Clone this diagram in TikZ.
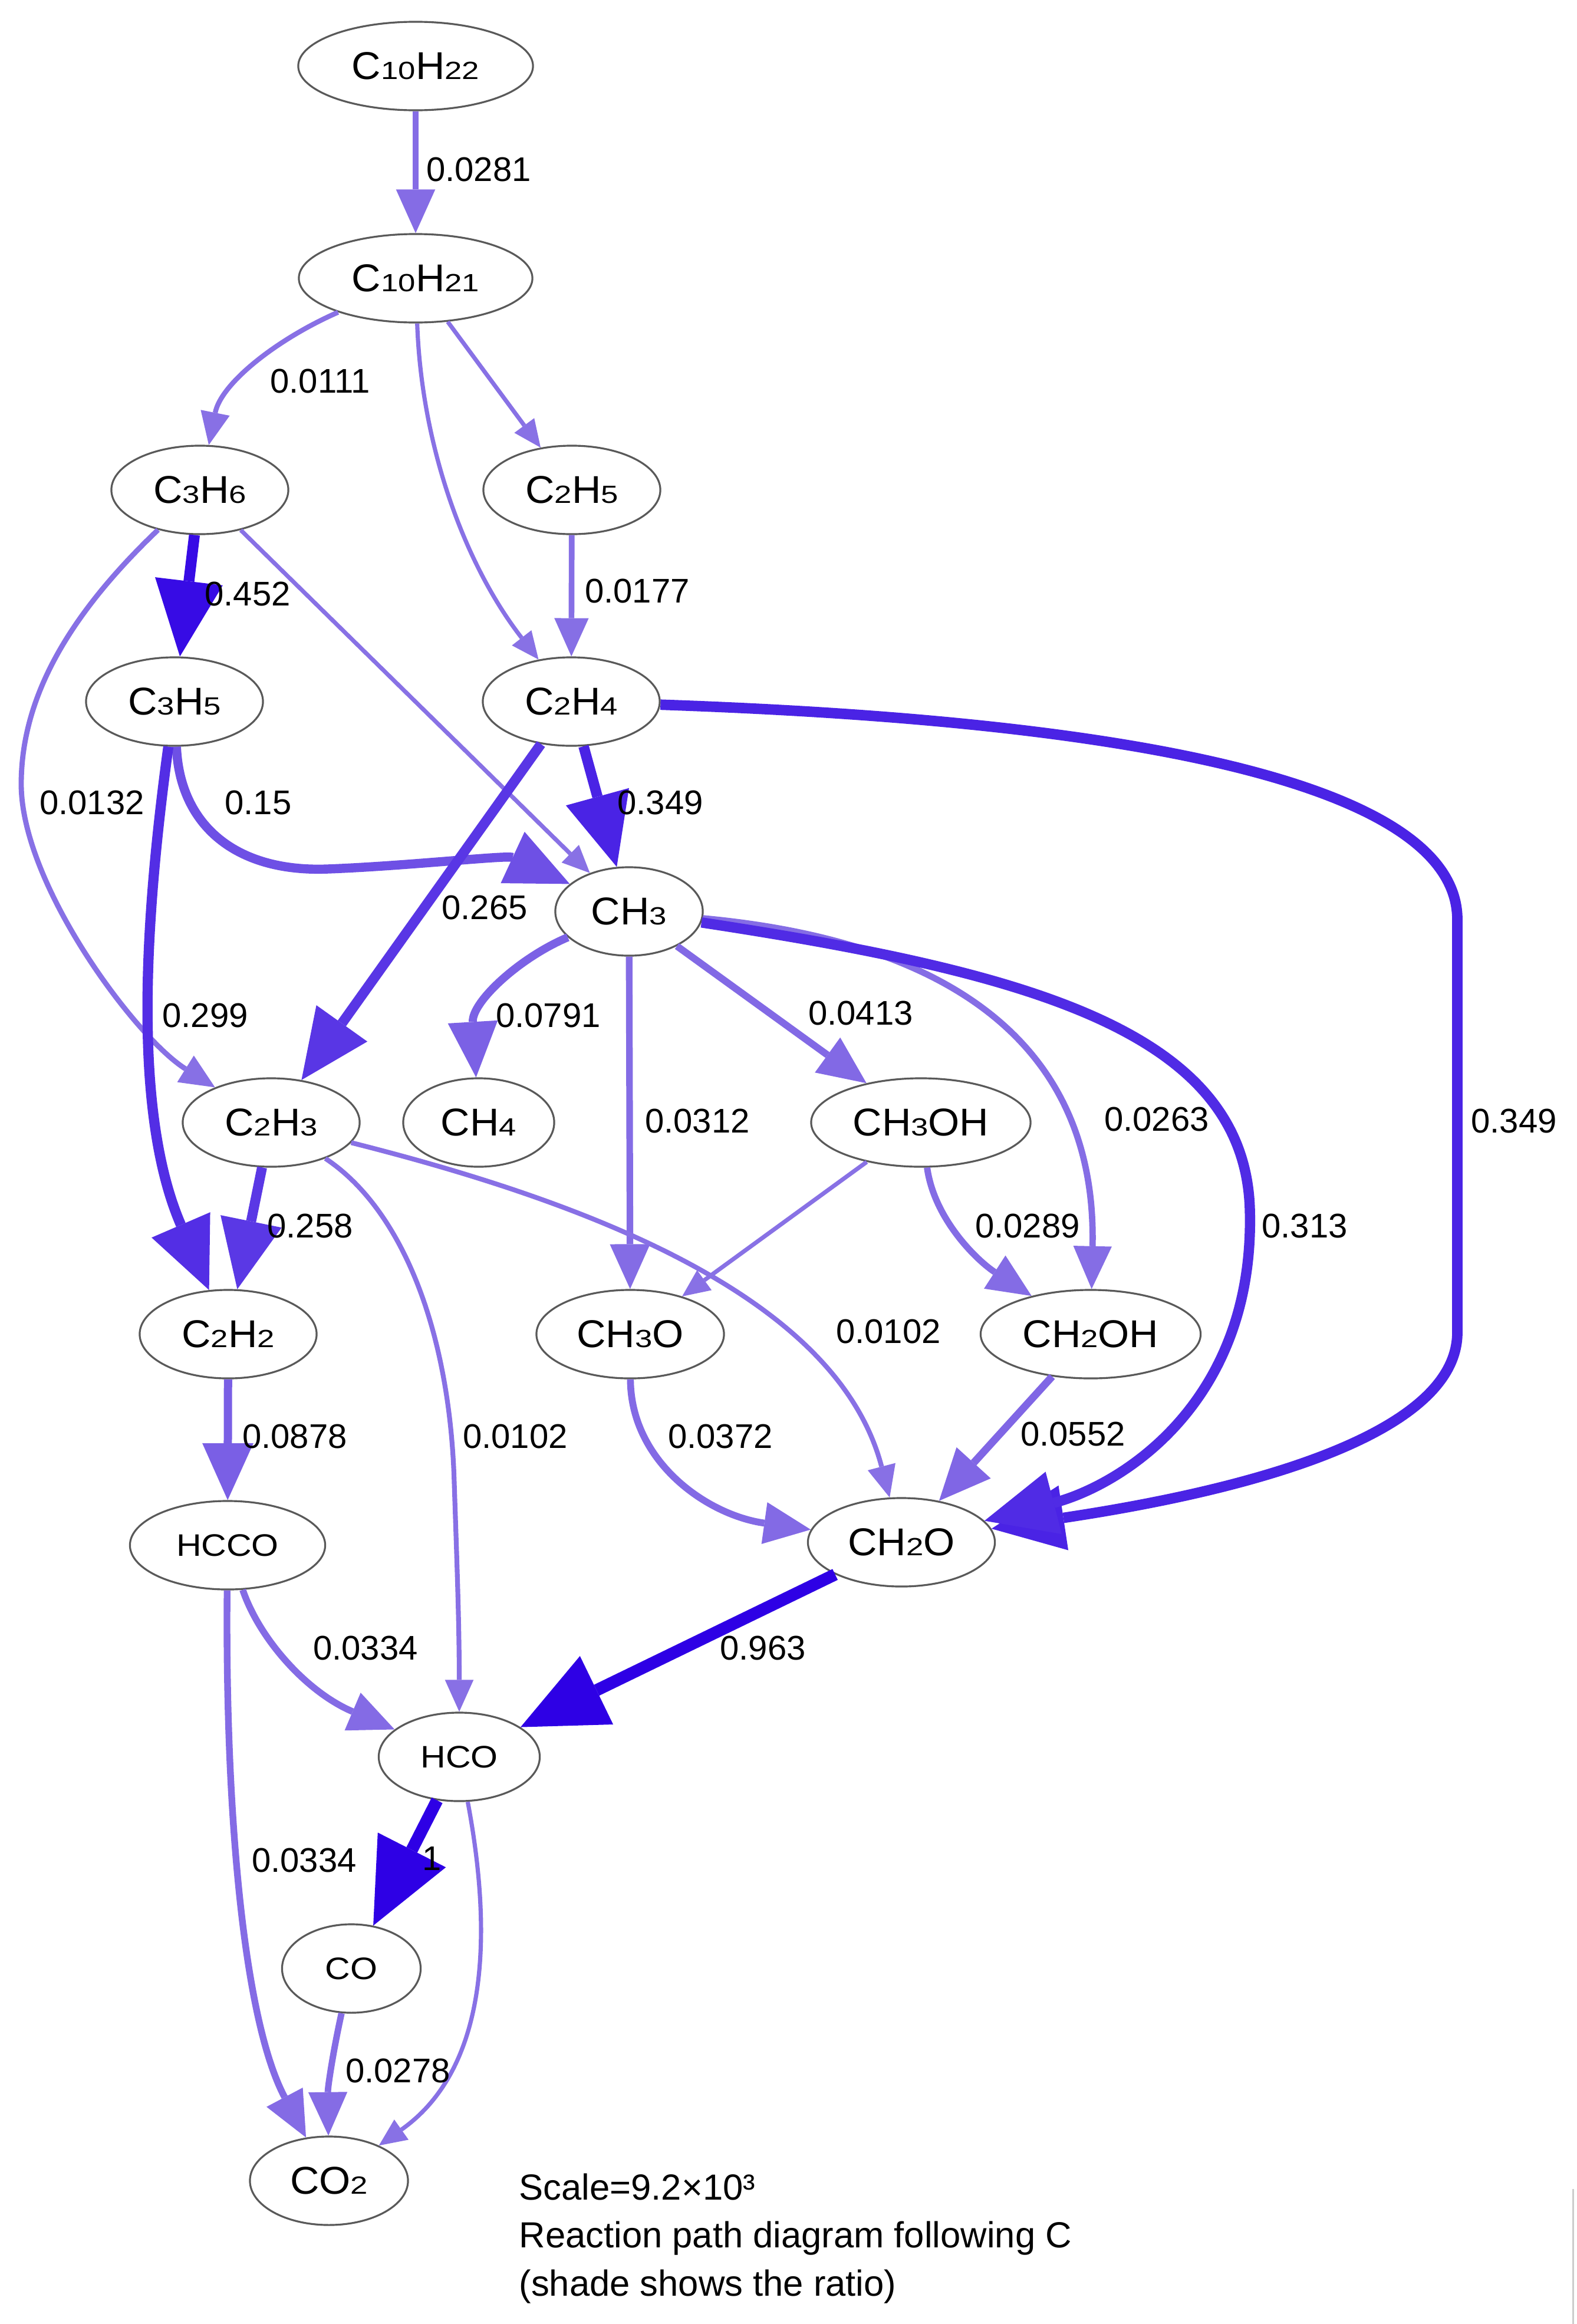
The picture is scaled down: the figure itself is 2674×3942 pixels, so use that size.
\documentclass[tikz,border=0pt]{standalone}
\usepackage{fontspec}
\setmainfont{Liberation Sans}
\newfontfamily\speciesfont{Liberation Sans}[FakeStretch=1.04]
\newfontfamily\smallspeciesfont{Liberation Sans}[FakeStretch=1.12]
\newfontfamily\chemsubfont{Liberation Sans}[FakeStretch=1.25]
\usetikzlibrary{arrows.meta,shapes.geometric}

\newcommand{\sbs}[1]{{\chemsubfont\fontsize{12}{12}\selectfont #1}}

\tikzset{
    species/.style={ellipse, draw=black!65, line width=0.9pt, fill=white, inner sep=0pt, minimum width=3cm, minimum height=1.5cm, font=\speciesfont\fontsize{18.7}{20}\selectfont},
    smallspecies/.style={species, font=\smallspeciesfont\fontsize{15}{16}\selectfont},
    rate/.style={inner sep=0pt, font=\fontsize{16.5}{18}\selectfont},
    flux/.code={%
        \pgfmathsetmacro\fluxlow{0.9*(1-min(1,0.5+#1))}%
        \pgfmathsetmacro\fluxred{\fluxlow+(0.9-\fluxlow)*0.2}%
        \pgfmathsetmacro\fluxunit{2+4*log10(#1/0.005)/2.30103}%
        \pgfmathsetmacro\fluxlw{0.2845*(3.6*\fluxunit-1)}%
        \pgfmathsetmacro\fluxlen{0.2845*(26*\fluxunit-12)}%
        \pgfmathsetmacro\fluxwid{0.9*\fluxlen}%
        \definecolor{fluxcol}{rgb}{\fluxred,\fluxlow,0.9}%
        \edef\fluxkeys{\noexpand\pgfkeysalso{draw=fluxcol, line width=\fluxlw pt, -{Triangle[length=\fluxlen pt, width=\fluxwid pt, line width=0pt]}}}%
        \fluxkeys
    }
}

\begin{document}
\begin{tikzpicture}[x=0.01cm, y=-0.01cm]
            \path[use as bounding box, fill=white] (0,0) rectangle (2674,3942);
            \node[species, minimum width=3.98cm] (c10h22) at (705,112) {C\sbs{10}H\sbs{22}};
            \node[species, minimum width=3.96cm] (c10h21) at (705,472) {C\sbs{10}H\sbs{21}};
            \node[species] (c3h6) at (339,831) {C\sbs{3}H\sbs{6}};
            \node[species] (c2h5) at (970,831) {C\sbs{2}H\sbs{5}};
            \node[species] (c3h5) at (296,1190) {C\sbs{3}H\sbs{5}};
            \node[species] (c2h4) at (969,1190) {C\sbs{2}H\sbs{4}};
            \node[species, minimum width=2.5cm] (ch3) at (1067,1546) {CH\sbs{3}};
            \node[species] (c2h3) at (460,1904) {C\sbs{2}H\sbs{3}};
            \node[species, minimum width=2.56cm] (ch4) at (812,1904) {CH\sbs{4}};
            \node[species, minimum width=3.72cm] (ch3oh) at (1562,1904) {CH\sbs{3}OH};
            \node[species] (c2h2) at (387,2263) {C\sbs{2}H\sbs{2}};
            \node[species, minimum width=3.18cm] (ch3o) at (1069,2263) {CH\sbs{3}O};
            \node[species, minimum width=3.73cm] (ch2oh) at (1850,2263) {CH\sbs{2}OH};
            \node[smallspecies, minimum width=3.31cm] (hcco) at (386,2621) {HCCO};
            \node[species, minimum width=3.17cm] (ch2o) at (1529,2616) {CH\sbs{2}O};
            \node[smallspecies, minimum width=2.73cm] (hco) at (779,2980) {HCO};
            \node[smallspecies, minimum width=2.35cm] (co) at (596,3339) {CO};
            \node[species, minimum width=2.68cm] (co2) at (558,3699) {CO\sbs{2}};
            \draw[flux=0.0281] (c10h22) -- (c10h21);
            \draw[flux=0.0111] (c10h21) .. controls (470,575) and (375,650) .. (c3h6);
            \draw[flux=0.007] (c10h21) -- (c2h5);
            \draw[flux=0.007] (c10h21) .. controls (715,760) and (790,960) .. (c2h4);
            \draw[flux=0.0177] (c2h5) -- (c2h4);
            \draw[flux=0.452] (c3h6) -- (c3h5);
            \draw[flux=0.0132] (c3h6) .. controls (120,1040) and (36,1180) .. (36,1330) .. controls (36,1500) and (230,1760) .. (c2h3);
            \draw[flux=0.007] (c3h6) -- (ch3);
            \draw[flux=0.15] (c3h5) .. controls (305,1400) and (400,1480) .. (556,1474) .. controls (690,1469) and (860,1450) .. (ch3);
            \draw[flux=0.299] (c3h5) .. controls (240,1600) and (230,1900) .. (c2h2);
            \draw[flux=0.349] (c2h4) -- (ch3);
            \draw[flux=0.265] (c2h4) -- (c2h3);
            \draw[flux=0.349] (c2h4) .. controls (1600,1212) and (2472,1270) .. (2472,1560) -- (2472,2260) .. controls (2472,2460) and (2000,2545) .. (ch2o);
            \draw[flux=0.0791] (ch3) .. controls (880,1625) and (800,1700) .. (ch4);
            \draw[flux=0.0413] (ch3) -- (ch3oh);
            \draw[flux=0.0312] (ch3) -- (ch3o);
            \draw[flux=0.0263] (ch3) .. controls (1650,1600) and (1860,1800) .. (ch2oh);
            \draw[flux=0.313] (ch3) .. controls (1750,1650) and (2110,1750) .. (2120,2050) .. controls (2130,2380) and (1900,2520) .. (ch2o);
            \draw[flux=0.258] (c2h3) -- (c2h2);
            \draw[flux=0.0102] (c2h3) .. controls (680,2050) and (760,2250) .. (770,2500) .. controls (775,2650) and (779,2750) .. (hco);
            \draw[flux=0.0102] (c2h3) .. controls (1000,2040) and (1420,2200) .. (ch2o);
            \draw[flux=0.007] (ch3oh) -- (ch3o);
            \draw[flux=0.0289] (ch3oh) .. controls (1585,2070) and (1660,2140) .. (ch2oh);
            \draw[flux=0.0878] (c2h2) -- (hcco);
            \draw[flux=0.0372] (ch3o) .. controls (1070,2480) and (1200,2570) .. (ch2o);
            \draw[flux=0.0552] (ch2oh) -- (ch2o);
            \draw[flux=0.0334] (hcco) .. controls (440,2780) and (520,2870) .. (hco);
            \draw[flux=0.0334] (hcco) .. controls (382,3050) and (410,3420) .. (co2);
            \draw[flux=0.963] (ch2o) -- (hco);
            \draw[flux=1] (hco) -- (co);
            \draw[flux=0.0278] (co) .. controls (565,3480) and (556,3540) .. (co2);
            \draw[flux=0.007] (hco) .. controls (830,3250) and (840,3500) .. (co2);
            \node[rate] (lab1) at (812,288) {0.0281};
            \node[rate] (lab2) at (543,647) {0.0111};
            \node[rate] (lab3) at (1081,1003) {0.0177};
            \node[rate] (lab4) at (420,1008) {0.452};
            \node[rate] (lab5) at (156,1362) {0.0132};
            \node[rate] (lab6) at (438,1362) {0.15};
            \node[rate] (lab7) at (1120,1362) {0.349};
            \node[rate] (lab8) at (822,1540) {0.265};
            \node[rate] (lab9) at (348,1723) {0.299};
            \node[rate] (lab10) at (930,1723) {0.0791};
            \node[rate] (lab11) at (1460,1719) {0.0413};
            \node[rate] (lab12) at (1183,1901) {0.0312};
            \node[rate] (lab13) at (1962,1899) {0.0263};
            \node[rate] (lab14) at (2568,1901) {0.349};
            \node[rate] (lab15) at (526,2079) {0.258};
            \node[rate] (lab16) at (1743,2079) {0.0289};
            \node[rate] (lab17) at (2213,2079) {0.313};
            \node[rate] (lab18) at (874,2436) {0.0102};
            \node[rate] (lab19) at (1507,2258) {0.0102};
            \node[rate] (lab20) at (500,2436) {0.0878};
            \node[rate] (lab21) at (1222,2436) {0.0372};
            \node[rate] (lab22) at (1820,2432) {0.0552};
            \node[rate] (lab23) at (620,2795) {0.0334};
            \node[rate] (lab24) at (1294,2795) {0.963};
            \node[rate] (lab25) at (516,3155) {0.0334};
            \node[rate] (lab26) at (733,3152) {1};
            \node[rate] (lab27) at (675,3512) {0.0278};
            \node[anchor=west, align=left, inner sep=0pt, font=\fontsize{17.5}{23.3}\selectfont] (note) at (880,3797) {Scale=9.2×10³\\Reaction path diagram following C\\(shade shows the ratio)};
            \draw[black!20, line width=0.03cm] (2668,3713) -- (2668,3942);
\end{tikzpicture}
\end{document}
